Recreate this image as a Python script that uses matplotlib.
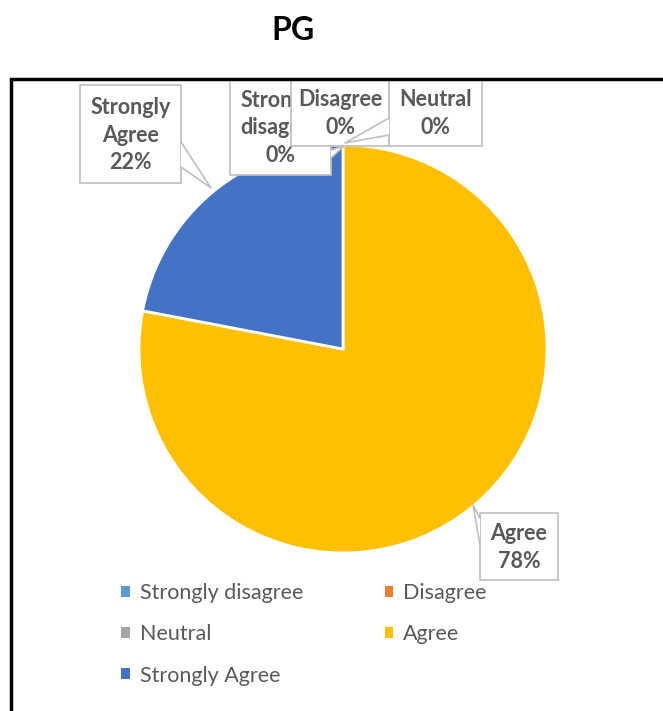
import matplotlib.pyplot as plt
from matplotlib.patches import Rectangle, Polygon

# data
categories = ["Strongly disagree", "Disagree", "Neutral", "Agree", "Strongly Agree"]
values = [0, 0, 0, 78, 22]
colors = ["#5B9BD5", "#ED7D31", "#A5A5A5", "#FFC000", "#4472C4"]
title = "PG"

W, H = 663, 711
FONT = ["Lato", "DejaVu Sans"]
GREY = "#595959"
EDGE = "#BFBFBF"


def Y(py):  # pixel row -> data y
    return H - py


fig = plt.figure(figsize=(W / 100, H / 100), dpi=100)
ax = fig.add_axes([0, 0, 1, 1])

wedges, _ = ax.pie(values, colors=colors, startangle=90, counterclock=False,
                   center=(343, Y(349)), radius=204,
                   wedgeprops=dict(edgecolor="white", linewidth=2))

# pie() sets its own limits, so put the pixel frame back afterwards
ax.set_xlim(0, W)
ax.set_ylim(0, H)
ax.set_aspect("equal")
ax.axis("off")

ax.text(293, Y(31), title, ha="center", va="center", fontsize=23,
        fontweight="bold", family=FONT, color="black")

# chart frame (cut off on the right and bottom)
ax.add_patch(Rectangle((11, Y(760)), 700, 760 - 79, fill=False,
                       edgecolor="black", linewidth=2.5, zorder=20))


def callout(box, text, tip=None, base=None, z=5):
    x0, y0, x1, y1 = box
    ax.add_patch(Rectangle((x0, Y(y1)), x1 - x0, y1 - y0, facecolor="white",
                           edgecolor=EDGE, linewidth=1.2, zorder=z))
    if tip is not None:
        pts = [(base[0][0], Y(base[0][1])), (tip[0], Y(tip[1])),
               (base[1][0], Y(base[1][1]))]
        ax.add_patch(Polygon(pts, closed=True, facecolor="white",
                             edgecolor="none", zorder=z + 0.1))
        ax.plot([p[0] for p in pts], [p[1] for p in pts], color=EDGE,
                linewidth=1.2, zorder=z + 0.2)
    ax.text((x0 + x1) / 2, Y((y0 + y1) / 2 + 1), text, ha="center", va="center",
            fontsize=15.5, fontweight="bold", family=FONT, color=GREY,
            linespacing=1.4, zorder=z + 0.3)


pct = [f"{v / sum(values):.0%}" for v in values]

callout((80, 85, 181, 183), f"Strongly\nAgree\n{pct[4]}",
        tip=(211, 188), base=((181, 142), (181, 167)), z=5)
callout((230, 79, 331, 175), f"Strongly\ndisagree\n{pct[0]}",
        tip=(344, 146), base=((331, 150), (331, 158)), z=6)
callout((291, 79, 389, 146), f"Disagree\n{pct[1]}", z=7)
callout((389, 79, 482, 146), f"Neutral\n{pct[2]}",
        tip=(345, 143), base=((389, 118), (389, 135)), z=8)
callout((480, 513, 558, 580), f"Agree\n{pct[3]}",
        tip=(473, 505), base=((480, 518), (480, 545)), z=9)

order = [0, 2, 4, 1, 3]
leg = fig.legend([wedges[i] for i in order], [categories[i] for i in order],
                 ncol=2, loc="upper left", bbox_to_anchor=(102 / W, 1 - 564 / H),
                 frameon=False, handlelength=0.4, handleheight=0.4,
                 handletextpad=0.45, columnspacing=3.8, labelspacing=0.98,
                 prop=dict(family=FONT, size=15.5))
for t in leg.get_texts():
    t.set_color(GREY)
for h in leg.legend_handles:
    h.set_linewidth(0)

fig.savefig("out.png", dpi=100)
